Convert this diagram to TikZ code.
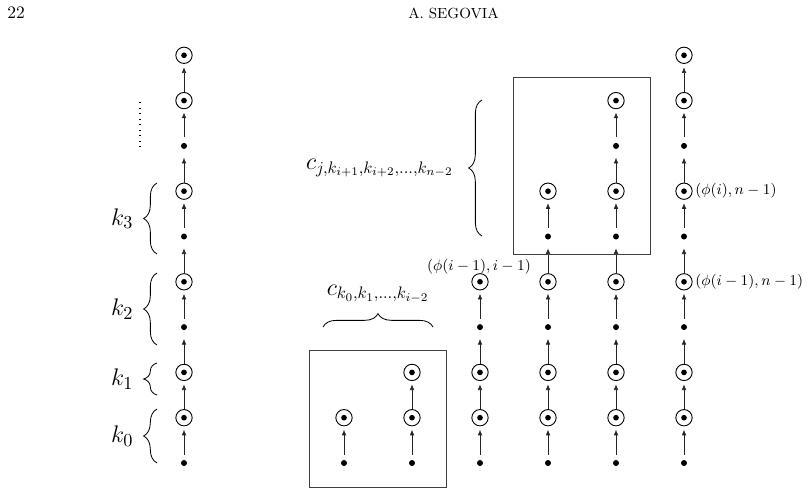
\documentclass[tikz,border=0pt]{standalone}
\usetikzlibrary{arrows.meta,decorations.pathreplacing}
\begin{document}
\begin{tikzpicture}[x=0.6pt,y=-0.6pt,
  circ/.style={circle,draw,line width=0.55pt,minimum size=9.8pt,inner sep=0pt,
    path picture={\fill (path picture bounding box.center) circle (1.7pt);}},
  pnt/.style={circle,minimum size=9.8pt,inner sep=0pt,
    path picture={\fill (path picture bounding box.center) circle (1.8pt);}},
  arr/.style={-{Latex[length=3.4pt,width=2.8pt]},line width=0.4pt,draw=black!85,shorten >=2pt},
  boxst/.style={draw=black!75,line width=0.6pt},
  brc/.style={decorate,decoration={brace,amplitude=8pt},line width=0.5pt},
  lbl/.style={font=\fontsize{9.5}{11}\selectfont,inner sep=0pt},
  clbl/.style={font=\fontsize{14}{16}\selectfont,inner sep=0pt},
  klbl/.style={font=\fontsize{15}{17}\selectfont,inner sep=0pt,anchor=east}
]
\useasboundingbox (0,0) rectangle (811,493);
% header
\node[font=\fontsize{10.5}{12}\selectfont,inner sep=0pt,anchor=west] (pg) at (7,12.5) {22};
\node[font=\fontsize{8.8}{11}\selectfont,inner sep=0pt,anchor=west] (hd) at (408,13) {A. SEGOVIA};

% rows
\def\ya{463}\def\yb{417.7}\def\yc{372.4}\def\yd{327.1}\def\ye{281.8}
\def\yf{236.5}\def\yg{191.2}\def\yh{145.9}\def\yi{100.6}\def\yj{55.3}

% left column
\node[pnt] (L0) at (184,\ya) {};
\node[circ] (L1) at (184,\yb) {};
\node[circ] (L2) at (184,\yc) {};
\node[pnt] (L3) at (184,\yd) {};
\node[circ] (L4) at (184,\ye) {};
\node[pnt] (L5) at (184,\yf) {};
\node[circ] (L6) at (184,\yg) {};
\node[pnt] (L7) at (184,\yh) {};
\node[circ] (L8) at (184,\yi) {};
\node[circ] (L9) at (184,\yj) {};
\foreach \a/\b in {0/1,1/2,2/3,3/4,4/5,5/6,6/7,7/8,8/9} \draw[arr] (L\a) -- (L\b);

% braces and k labels
\draw[brc] (157,463) -- (157,409) coordinate[midway,xshift=-14] (k0c);
\draw[brc] (157,395) -- (157,363) coordinate[midway,xshift=-14] (k1c);
\draw[brc] (157,345) -- (157,273) coordinate[midway,xshift=-14] (k2c);
\draw[brc] (157,254) -- (157,183) coordinate[midway,xshift=-14] (k3c);
\node[klbl] (k0) at (k0c) {$k_0$};
\node[klbl] (k1) at (k1c) {$k_1$};
\node[klbl] (k2) at (k2c) {$k_2$};
\node[klbl] (k3) at (k3c) {$k_3$};

% vertical dots
\coordinate (vd1) at (140,102);
\coordinate (vd2) at (140,147);
\draw[line width=0.8pt,dash pattern=on 0.8pt off 2.5pt] (vd1) -- (vd2);

% box 1
\node[pnt] (A0) at (344,\ya) {};
\node[circ] (A1) at (344,\yb) {};
\draw[arr] (A0) -- (A1);
\node[pnt] (B0) at (412,\ya) {};
\node[circ] (B1) at (412,\yb) {};
\node[circ] (B2) at (412,\yc) {};
\draw[arr] (B0) -- (B1);
\draw[arr] (B1) -- (B2);
\draw[boxst] (309.5,350) rectangle (446,487);
\draw[brc] (323,327) -- (433,327) coordinate[midway,yshift=20] (cbc);
\node[clbl] (cb) at (cbc) {$c_{k_0,k_1,\ldots,k_{i-2}}$};

% column C (x=480)
\node[pnt] (C0) at (480,\ya) {};
\node[circ] (C1) at (480,\yb) {};
\node[circ] (C2) at (480,\yc) {};
\node[pnt] (C3) at (480,\yd) {};
\node[circ] (C4) at (480,\ye) {};
\foreach \a/\b in {0/1,1/2,2/3,3/4} \draw[arr] (C\a) -- (C\b);
\node[lbl,anchor=south] (lC) at (479,275) {$(\phi(i-1),i-1)$};

% column D (x=548)
\node[pnt] (D0) at (548,\ya) {};
\node[circ] (D1) at (548,\yb) {};
\node[circ] (D2) at (548,\yc) {};
\node[pnt] (D3) at (548,\yd) {};
\node[circ] (D4) at (548,\ye) {};
\node[pnt] (D5) at (548,\yf) {};
\node[circ] (D6) at (548,\yg) {};
\foreach \a/\b in {0/1,1/2,2/3,3/4,4/5,5/6} \draw[arr] (D\a) -- (D\b);

% column E (x=616)
\node[pnt] (E0) at (616,\ya) {};
\node[circ] (E1) at (616,\yb) {};
\node[circ] (E2) at (616,\yc) {};
\node[pnt] (E3) at (616,\yd) {};
\node[circ] (E4) at (616,\ye) {};
\node[pnt] (E5) at (616,\yf) {};
\node[circ] (E6) at (616,\yg) {};
\node[pnt] (E7) at (616,\yh) {};
\node[circ] (E8) at (616,\yi) {};
\foreach \a/\b in {0/1,1/2,2/3,3/4,4/5,5/6,6/7,7/8} \draw[arr] (E\a) -- (E\b);

% box 2
\draw[boxst] (513.5,77) rectangle (650,254);
\draw[brc] (482,236) -- (482,100) coordinate[midway,xshift=-17] (cjc);
\node[clbl,anchor=east] (cj) at (cjc) {$c_{j,k_{i+1},k_{i+2},\ldots,k_{n-2}}$};

% column F (x=684)
\node[pnt] (F0) at (684,\ya) {};
\node[circ] (F1) at (684,\yb) {};
\node[circ] (F2) at (684,\yc) {};
\node[pnt] (F3) at (684,\yd) {};
\node[circ] (F4) at (684,\ye) {};
\node[pnt] (F5) at (684,\yf) {};
\node[circ] (F6) at (684,\yg) {};
\node[pnt] (F7) at (684,\yh) {};
\node[circ] (F8) at (684,\yi) {};
\node[circ] (F9) at (684,\yj) {};
\foreach \a/\b in {0/1,1/2,2/3,3/4,4/5,5/6,6/7,7/8,8/9} \draw[arr] (F\a) -- (F\b);
\node[lbl,anchor=west] (lF6) at ([xshift=1.5]F6.east) {$(\phi(i),n-1)$};
\node[lbl,anchor=west] (lF4) at ([xshift=1.5]F4.east) {$(\phi(i-1),n-1)$};
\end{tikzpicture}
\end{document}
